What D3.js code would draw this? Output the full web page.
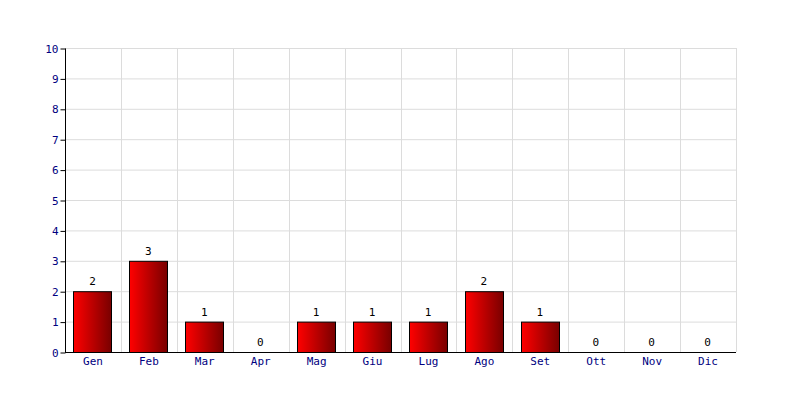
<!DOCTYPE html>
<html><head><meta charset="utf-8">
<script src="https://cdn.jsdelivr.net/npm/d3@7"></script>
<style>body{margin:0;background:#fff}</style>
</head><body>
<svg id="c" width="800" height="400"></svg>
<script>
const months = ["Gen","Feb","Mar","Apr","Mag","Giu","Lug","Ago","Set","Ott","Nov","Dic"];
const values = [2,3,1,0,1,1,1,2,1,0,0,0];
const yTicks = [0,1,2,3,4,5,6,7,8,9,10];

const data = months.map((mo,i)=>({m:mo, v:values[i]}));
const svg = d3.select("#c");
const m = {l:65, r:64, t:48, b:48};
const W = 800, H = 400;
const x = d3.scaleBand().domain(months).range([m.l, W-m.r]).paddingInner(0).paddingOuter(0);
const y = d3.scaleLinear().domain([0,10]).range([H-m.b, m.t]);
const font = "'DejaVu Sans Mono', monospace";

const defs = svg.append("defs");
const g = defs.append("linearGradient").attr("id","rg").attr("x1","0").attr("x2","1").attr("y1","0").attr("y2","0");
g.append("stop").attr("offset","0").attr("stop-color","#ff0000");
g.append("stop").attr("offset","1").attr("stop-color","#780000");

// grid
svg.append("g").selectAll("line").data(yTicks.slice(1)).join("line")
  .attr("x1", m.l).attr("x2", W-m.r).attr("y1", d=>y(d)+0.5).attr("y2", d=>y(d)+0.5)
  .attr("stroke","#dcdcdc");
svg.append("g").selectAll("line").data(months).join("line")
  .attr("x1", d=>Math.round(x(d)+x.bandwidth())+0.5).attr("x2", d=>Math.round(x(d)+x.bandwidth())+0.5)
  .attr("y1", m.t).attr("y2", H-m.b).attr("stroke","#dcdcdc");

// bars
const bw = 38;
svg.append("g").selectAll("rect").data(data.filter(d=>d.v>0)).join("rect")
  .attr("x", d=>Math.floor(x(d.m)+x.bandwidth()/2 - bw/2)+0.5)
  .attr("y", d=>y(d.v)+0.5)
  .attr("width", bw)
  .attr("height", d=>y(0)-y(d.v))
  .attr("fill","url(#rg)").attr("stroke","#000").attr("stroke-width",1);

// value labels
svg.append("g").selectAll("text").data(data).join("text")
  .attr("x", d=>x(d.m)+x.bandwidth()/2 - 0.5)
  .attr("y", d=>y(d.v)-6)
  .attr("text-anchor","middle").attr("font-family",font).attr("font-size",11).attr("fill","#000")
  .text(d=>d.v);

// axes
const ya = d3.axisLeft(y).tickValues(yTicks).tickSize(5).tickPadding(2).tickFormat(d3.format("d"));
const yg = svg.append("g").attr("transform",`translate(${m.l+0.5},0.5)`).call(ya);
yg.select(".domain").attr("stroke","#000").attr("d", `M0,${m.t}V${H-m.b}`);
yg.selectAll(".tick line").attr("stroke","#000");
yg.selectAll("text").attr("font-family",font).attr("font-size",11).attr("fill","#000080");

const xa = d3.axisBottom(x).tickSize(0).tickPadding(5);
const xg = svg.append("g").attr("transform",`translate(0,${H-m.b+0.5})`).call(xa);
xg.select(".domain").attr("stroke","#000").attr("d", `M${m.l},0H${W-m.r}`);
xg.selectAll("text").attr("font-family",font).attr("font-size",11).attr("fill","#000080");
</script>
</body></html>
